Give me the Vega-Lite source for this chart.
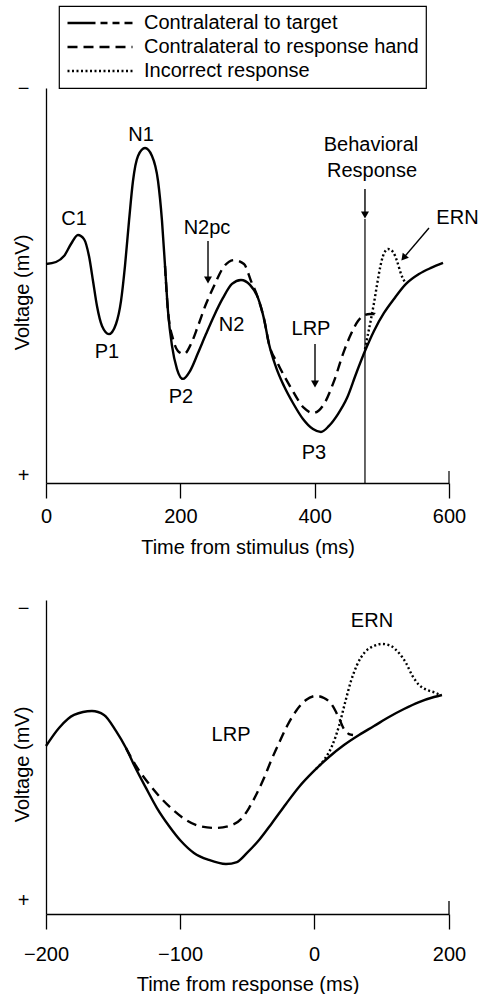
{
  "$schema": "https://vega.github.io/schema/vega-lite/v6.json",
  "background": "white",
  "padding": {"left": 12, "top": 5, "right": 0, "bottom": 0},
  "spacing": 41,
  "config": {
    "view": {"stroke": null},
    "font": "Liberation Sans",
    "axis": {"labelFont": "Liberation Sans", "titleFont": "Liberation Sans", "labelFontSize": 20, "titleFontSize": 20, "titleFontWeight": "normal", "labelColor": "black", "titleColor": "black", "domainColor": "black", "tickColor": "black", "domainWidth": 1.3, "tickWidth": 1.3, "grid": false},
    "text": {"font": "Liberation Sans", "fontSize": 20, "color": "black"}
  },
  "datasets": {
    "stim": [
      {"time":0,"voltage":-1.09,"trace":"Contralateral to target"},{"time":14.9,"voltage":-1.19,"trace":"Contralateral to target"},{"time":26.8,"voltage":-1.49,"trace":"Contralateral to target"},{"time":37.2,"voltage":-2.10,"trace":"Contralateral to target"},{"time":47.6,"voltage":-2.56,"trace":"Contralateral to target"},{"time":56.6,"voltage":-2.35,"trace":"Contralateral to target"},{"time":64.0,"voltage":-1.49,"trace":"Contralateral to target"},{"time":70.0,"voltage":-0.23,"trace":"Contralateral to target"},{"time":75.9,"voltage":1.04,"trace":"Contralateral to target"},{"time":83.4,"voltage":2.05,"trace":"Contralateral to target"},{"time":93.8,"voltage":2.46,"trace":"Contralateral to target"},{"time":104.2,"voltage":1.95,"trace":"Contralateral to target"},{"time":111.7,"voltage":0.78,"trace":"Contralateral to target"},{"time":117.6,"voltage":-0.99,"trace":"Contralateral to target"},{"time":123.6,"voltage":-3.27,"trace":"Contralateral to target"},{"time":129.5,"voltage":-5.29,"trace":"Contralateral to target"},{"time":137.0,"voltage":-6.56,"trace":"Contralateral to target"},{"time":147.4,"voltage":-6.96,"trace":"Contralateral to target"},{"time":157.8,"voltage":-6.56,"trace":"Contralateral to target"},{"time":166.8,"voltage":-5.29,"trace":"Contralateral to target"},{"time":172.7,"voltage":-3.27,"trace":"Contralateral to target"},{"time":177.2,"voltage":-0.99,"trace":"Contralateral to target"},{"time":181.6,"voltage":1.29,"trace":"Contralateral to target"},{"time":187.6,"voltage":3.06,"trace":"Contralateral to target"},{"time":195.0,"voltage":4.23,"trace":"Contralateral to target"},{"time":204.0,"voltage":4.73,"trace":"Contralateral to target"},{"time":214.4,"voltage":4.33,"trace":"Contralateral to target"},{"time":226.3,"voltage":3.42,"trace":"Contralateral to target"},{"time":238.2,"voltage":2.46,"trace":"Contralateral to target"},{"time":250.1,"voltage":1.54,"trace":"Contralateral to target"},{"time":263.5,"voltage":0.63,"trace":"Contralateral to target"},{"time":276.9,"voltage":-0.08,"trace":"Contralateral to target"},{"time":290.3,"voltage":-0.28,"trace":"Contralateral to target"},{"time":303.7,"voltage":-0.03,"trace":"Contralateral to target"},{"time":315.6,"voltage":0.63,"trace":"Contralateral to target"},{"time":324.6,"voltage":1.70,"trace":"Contralateral to target"},{"time":332.0,"voltage":2.96,"trace":"Contralateral to target"},{"time":342.4,"voltage":4.13,"trace":"Contralateral to target"},{"time":354.3,"voltage":5.09,"trace":"Contralateral to target"},{"time":367.7,"voltage":5.95,"trace":"Contralateral to target"},{"time":382.6,"voltage":6.76,"trace":"Contralateral to target"},{"time":397.5,"voltage":7.27,"trace":"Contralateral to target"},{"time":409.4,"voltage":7.42,"trace":"Contralateral to target"},{"time":421.3,"voltage":7.11,"trace":"Contralateral to target"},{"time":434.7,"voltage":6.51,"trace":"Contralateral to target"},{"time":448.1,"voltage":5.70,"trace":"Contralateral to target"},{"time":461.5,"voltage":4.48,"trace":"Contralateral to target"},{"time":474.9,"voltage":3.32,"trace":"Contralateral to target"},{"time":488.3,"voltage":2.30,"trace":"Contralateral to target"},{"time":503.2,"voltage":1.39,"trace":"Contralateral to target"},{"time":518.1,"voltage":0.68,"trace":"Contralateral to target"},{"time":536.0,"voltage":-0.08,"trace":"Contralateral to target"},{"time":555.3,"voltage":-0.58,"trace":"Contralateral to target"},{"time":573.2,"voltage":-0.89,"trace":"Contralateral to target"},{"time":591.1,"voltage":-1.14,"trace":"Contralateral to target"},
      {"time":177.2,"voltage":-0.99,"trace":"Contralateral to response hand"},{"time":181.6,"voltage":1.29,"trace":"Contralateral to response hand"},{"time":189.1,"voltage":2.71,"trace":"Contralateral to response hand"},{"time":196.5,"voltage":3.32,"trace":"Contralateral to response hand"},{"time":205.5,"voltage":3.47,"trace":"Contralateral to response hand"},{"time":215.9,"voltage":2.96,"trace":"Contralateral to response hand"},{"time":226.3,"voltage":2.05,"trace":"Contralateral to response hand"},{"time":238.2,"voltage":0.94,"trace":"Contralateral to response hand"},{"time":250.1,"voltage":0.03,"trace":"Contralateral to response hand"},{"time":263.5,"voltage":-0.89,"trace":"Contralateral to response hand"},{"time":279.9,"voltage":-1.29,"trace":"Contralateral to response hand"},{"time":294.8,"voltage":-1.09,"trace":"Contralateral to response hand"},{"time":305.2,"voltage":-0.23,"trace":"Contralateral to response hand"},{"time":315.6,"voltage":0.63,"trace":"Contralateral to response hand"},{"time":324.6,"voltage":1.70,"trace":"Contralateral to response hand"},{"time":332.0,"voltage":2.96,"trace":"Contralateral to response hand"},{"time":345.4,"voltage":3.97,"trace":"Contralateral to response hand"},{"time":364.8,"voltage":5.19,"trace":"Contralateral to response hand"},{"time":384.1,"voltage":6.20,"trace":"Contralateral to response hand"},{"time":397.5,"voltage":6.46,"trace":"Contralateral to response hand"},{"time":413.9,"voltage":6.00,"trace":"Contralateral to response hand"},{"time":428.8,"voltage":4.84,"trace":"Contralateral to response hand"},{"time":443.7,"voltage":3.32,"trace":"Contralateral to response hand"},{"time":454.1,"voltage":2.46,"trace":"Contralateral to response hand"},{"time":464.5,"voltage":1.80,"trace":"Contralateral to response hand"},{"time":474.9,"voltage":1.49,"trace":"Contralateral to response hand"},{"time":482.4,"voltage":1.44,"trace":"Contralateral to response hand"},{"time":489.8,"voltage":1.44,"trace":"Contralateral to response hand"},{"time":491.3,"voltage":1.70,"trace":"Contralateral to response hand"},
      {"time":474.9,"voltage":3.22,"trace":"Incorrect response"},{"time":479.4,"voltage":2.46,"trace":"Incorrect response"},{"time":483.9,"voltage":1.70,"trace":"Incorrect response"},{"time":488.3,"voltage":0.89,"trace":"Incorrect response"},{"time":492.8,"voltage":-0.03,"trace":"Incorrect response"},{"time":497.3,"voltage":-0.89,"trace":"Incorrect response"},{"time":501.7,"voltage":-1.49,"trace":"Incorrect response"},{"time":509.2,"voltage":-1.85,"trace":"Incorrect response"},{"time":516.7,"voltage":-1.70,"trace":"Incorrect response"},{"time":522.6,"voltage":-1.24,"trace":"Incorrect response"},{"time":528.6,"voltage":-0.58,"trace":"Incorrect response"},{"time":536.0,"voltage":-0.08,"trace":"Incorrect response"}
    ],
    "stimLabels": [
      {"time":41.7,"voltage":-3.36,"label":"C1"},{"time":141.4,"voltage":-7.61,"label":"N1"},{"time":90.8,"voltage":3.38,"label":"P1"},{"time":239.7,"voltage":-2.9,"label":"N2pc"},{"time":201.0,"voltage":5.65,"label":"P2"},{"time":276.2,"voltage":2.01,"label":"N2"},{"time":394.5,"voltage":2.21,"label":"LRP"},{"time":399.0,"voltage":8.49,"label":"P3"},{"time":483.9,"voltage":-7.1,"label":"Behavioral"},{"time":485.4,"voltage":-5.79,"label":"Response"},{"time":612.6,"voltage":-3.41,"label":"ERN"}
    ],
    "stimArrows": [
      {"time":241.2,"voltage":-2.25,"time2":241.2,"voltage2":-0.28},{"time":400.5,"voltage":2.96,"time2":400.5,"voltage2":4.99},{"time":474.9,"voltage":-4.89,"time2":474.9,"voltage2":-3.57},{"time":570.2,"voltage":-2.91,"time2":532.4,"voltage2":-1.40}
    ],
    "stimHeads": [{"time":241.2,"voltage":-0.28},{"time":400.5,"voltage":4.99},{"time":474.9,"voltage":-3.57}],
    "stimErnHead": [{"time":532.4,"voltage":-1.40}],
    "stimRules": [{"time":474.9,"voltage":-3.37,"voltage2":10},{"time":600,"voltage":9.39,"voltage2":10}],
    "resp": [
      {"time":-200,"voltage":-0.70,"trace":"Contralateral to target"},{"time":-190.3,"voltage":-1.85,"trace":"Contralateral to target"},{"time":-179.1,"voltage":-2.68,"trace":"Contralateral to target"},{"time":-165.7,"voltage":-2.93,"trace":"Contralateral to target"},{"time":-156.7,"voltage":-2.68,"trace":"Contralateral to target"},{"time":-147.8,"voltage":-1.66,"trace":"Contralateral to target"},{"time":-140.3,"voltage":-0.57,"trace":"Contralateral to target"},{"time":-134.3,"voltage":0.51,"trace":"Contralateral to target"},{"time":-125.4,"voltage":1.97,"trace":"Contralateral to target"},{"time":-117.2,"voltage":3.25,"trace":"Contralateral to target"},{"time":-108.2,"voltage":4.39,"trace":"Contralateral to target"},{"time":-99.3,"voltage":5.35,"trace":"Contralateral to target"},{"time":-89.6,"voltage":6.11,"trace":"Contralateral to target"},{"time":-78.4,"voltage":6.56,"trace":"Contralateral to target"},{"time":-65.7,"voltage":6.82,"trace":"Contralateral to target"},{"time":-57.5,"voltage":6.69,"trace":"Contralateral to target"},{"time":-50.0,"voltage":6.11,"trace":"Contralateral to target"},{"time":-41.0,"voltage":5.29,"trace":"Contralateral to target"},{"time":-31.3,"voltage":4.20,"trace":"Contralateral to target"},{"time":-20.9,"voltage":2.99,"trace":"Contralateral to target"},{"time":-11.2,"voltage":1.91,"trace":"Contralateral to target"},{"time":0,"voltage":0.89,"trace":"Contralateral to target"},{"time":22.2,"voltage":0,"trace":"Contralateral to target"},{"time":44.4,"voltage":-0.76,"trace":"Contralateral to target"},{"time":66.7,"voltage":-1.40,"trace":"Contralateral to target"},{"time":88.9,"voltage":-1.97,"trace":"Contralateral to target"},{"time":111.1,"voltage":-2.55,"trace":"Contralateral to target"},{"time":133.3,"voltage":-3.06,"trace":"Contralateral to target"},{"time":155.6,"voltage":-3.50,"trace":"Contralateral to target"},{"time":177.8,"voltage":-3.82,"trace":"Contralateral to target"},{"time":189.6,"voltage":-3.95,"trace":"Contralateral to target"},
      {"time":-140.3,"voltage":-0.57,"trace":"Contralateral to response hand"},{"time":-132.8,"voltage":0.57,"trace":"Contralateral to response hand"},{"time":-125.4,"voltage":1.46,"trace":"Contralateral to response hand"},{"time":-115.7,"voltage":2.48,"trace":"Contralateral to response hand"},{"time":-106.0,"voltage":3.31,"trace":"Contralateral to response hand"},{"time":-95.5,"voltage":4.01,"trace":"Contralateral to response hand"},{"time":-85.8,"voltage":4.39,"trace":"Contralateral to response hand"},{"time":-73.1,"voltage":4.52,"trace":"Contralateral to response hand"},{"time":-61.2,"voltage":4.33,"trace":"Contralateral to response hand"},{"time":-53.7,"voltage":3.89,"trace":"Contralateral to response hand"},{"time":-48.5,"voltage":3.25,"trace":"Contralateral to response hand"},{"time":-42.5,"voltage":2.29,"trace":"Contralateral to response hand"},{"time":-37.3,"voltage":1.34,"trace":"Contralateral to response hand"},{"time":-32.1,"voltage":0.25,"trace":"Contralateral to response hand"},{"time":-26.1,"voltage":-0.89,"trace":"Contralateral to response hand"},{"time":-20.1,"voltage":-1.97,"trace":"Contralateral to response hand"},{"time":-13.4,"voltage":-2.93,"trace":"Contralateral to response hand"},{"time":-6.0,"voltage":-3.63,"trace":"Contralateral to response hand"},{"time":3.0,"voltage":-3.89,"trace":"Contralateral to response hand"},{"time":14.8,"voltage":-3.76,"trace":"Contralateral to response hand"},{"time":26.7,"voltage":-3.31,"trace":"Contralateral to response hand"},{"time":37.0,"voltage":-2.48,"trace":"Contralateral to response hand"},{"time":44.4,"voltage":-1.78,"trace":"Contralateral to response hand"},{"time":51.9,"voltage":-1.46,"trace":"Contralateral to response hand"},{"time":57.8,"voltage":-1.40,"trace":"Contralateral to response hand"},
      {"time":3.0,"voltage":0.76,"trace":"Incorrect response"},{"time":14.8,"voltage":0.19,"trace":"Incorrect response"},{"time":26.7,"voltage":-0.70,"trace":"Incorrect response"},{"time":37.0,"voltage":-1.97,"trace":"Incorrect response"},{"time":45.9,"voltage":-3.44,"trace":"Incorrect response"},{"time":54.8,"voltage":-4.84,"trace":"Incorrect response"},{"time":63.7,"voltage":-5.86,"trace":"Incorrect response"},{"time":75.6,"voltage":-6.69,"trace":"Incorrect response"},{"time":88.9,"voltage":-7.07,"trace":"Incorrect response"},{"time":100.7,"voltage":-7.20,"trace":"Incorrect response"},{"time":114.1,"voltage":-7.07,"trace":"Incorrect response"},{"time":125.9,"voltage":-6.62,"trace":"Incorrect response"},{"time":136.3,"voltage":-5.99,"trace":"Incorrect response"},{"time":145.2,"voltage":-5.22,"trace":"Incorrect response"},{"time":155.6,"voltage":-4.59,"trace":"Incorrect response"},{"time":167.4,"voltage":-4.27,"trace":"Incorrect response"},{"time":180.7,"voltage":-4.08,"trace":"Incorrect response"},{"time":186.7,"voltage":-3.95,"trace":"Incorrect response"}
    ],
    "respLabels": [{"time":85.9,"voltage":-8.66,"label":"ERN"},{"time":-61.9,"voltage":-1.39,"label":"LRP"}],
    "respRules": [{"time":200,"voltage":9.17,"voltage2":10}]
  },
  "vconcat": [
    {
      "width": 403,
      "height": 395,
      "encoding": {
        "x": {"field": "time", "type": "quantitative", "scale": {"domain": [0, 600], "nice": false, "zero": false},
              "axis": {"values": [0, 200, 400, 600], "title": "Time from stimulus (ms)", "tickSize": 15, "labelPadding": 8, "titlePadding": 11, "labelFlush": false}},
        "y": {"field": "voltage", "type": "quantitative", "scale": {"domain": [-10, 10], "reverse": true, "nice": false, "zero": false},
              "axis": {"values": [-10, 9.6], "labelExpr": "datum.value < 0 ? '−' : '+'", "tickSize": 0, "labelPadding": 17, "title": "Voltage (mV)", "titleX": -18, "titleY": 204, "titleBaseline": "alphabetic"}}
      },
      "layer": [
        {
          "data": {"name": "stim"},
          "transform": [{"filter": "datum.trace === 'Contralateral to target'"}],
          "mark": {"type": "line", "color": "black", "strokeWidth": 2.4, "interpolate": "monotone"}
        },
        {
          "data": {"name": "stim"},
          "transform": [{"filter": "datum.trace !== 'Contralateral to target'"}],
          "mark": {"type": "line", "color": "black", "strokeWidth": 2.4, "interpolate": "monotone"},
          "encoding": {
            "strokeDash": {"field": "trace", "type": "nominal",
              "scale": {"domain": ["Contralateral to target", "Contralateral to response hand", "Incorrect response"], "range": [[28, 5, 7, 5, 7, 5, 8, 35], [10, 6], [2, 2.5]]},
              "legend": {
                "title": null, "orient": "none", "legendX": 13, "legendY": -82,
                "symbolType": "stroke", "symbolSize": 4225, "symbolStrokeWidth": 2.4, "symbolStrokeColor": "black",
                "labelFontSize": 20, "labelFont": "Liberation Sans", "labelColor": "black", "labelOffset": 10, "labelLimit": 600,
                "padding": 7, "rowPadding": 4, "clipHeight": 20, "strokeColor": "black",
                "labelExpr": "datum.label + '\u00a0'",
                "encode": {"legend": {"update": {"strokeWidth": {"value": 1.2}}}}
              }
            }
          }
        },
        {
          "data": {"name": "stimRules"},
          "mark": {"type": "rule", "color": "black", "strokeWidth": 1.2},
          "encoding": {"y2": {"field": "voltage2"}}
        },
        {
          "data": {"name": "stimArrows"},
          "mark": {"type": "rule", "color": "black", "strokeWidth": 1.4},
          "encoding": {"x2": {"field": "time2"}, "y2": {"field": "voltage2"}}
        },
        {
          "data": {"name": "stimHeads"},
          "mark": {"type": "point", "shape": "triangle-down", "filled": true, "color": "black", "opacity": 1, "size": 64}
        },
        {
          "data": {"name": "stimErnHead"},
          "mark": {"type": "point", "shape": "triangle-down", "filled": true, "color": "black", "opacity": 1, "size": 64, "angle": 40}
        },
        {
          "data": {"name": "stimLabels"},
          "mark": {"type": "text", "fontSize": 20, "font": "Liberation Sans", "color": "black", "baseline": "middle", "align": "center"},
          "encoding": {"text": {"field": "label"}}
        }
      ]
    },
    {
      "width": 403,
      "height": 314,
      "encoding": {
        "x": {"field": "time", "type": "quantitative", "scale": {"domain": [-200, 0, 200], "range": [0, 268, 403], "nice": false, "zero": false},
              "axis": {"values": [-200, -100, 0, 200], "title": "Time from response (ms)", "tickSize": 15, "labelPadding": 15, "titlePadding": 10, "labelFlush": false}},
        "y": {"field": "voltage", "type": "quantitative", "scale": {"domain": [-10, 10], "reverse": true, "nice": false, "zero": false},
              "axis": {"values": [-9.49, 9.17], "labelExpr": "datum.value < 0 ? '−' : '+'", "tickSize": 0, "labelPadding": 17, "title": "Voltage (mV)", "titleX": -18, "titleY": 164, "titleBaseline": "alphabetic"}}
      },
      "layer": [
        {
          "data": {"name": "resp"},
          "transform": [{"filter": "datum.trace === 'Contralateral to target'"}],
          "mark": {"type": "line", "color": "black", "strokeWidth": 2.4, "interpolate": "monotone"}
        },
        {
          "data": {"name": "resp"},
          "transform": [{"filter": "datum.trace !== 'Contralateral to target'"}],
          "mark": {"type": "line", "color": "black", "strokeWidth": 2.4, "interpolate": "monotone"},
          "encoding": {
            "strokeDash": {"field": "trace", "type": "nominal",
              "scale": {"domain": ["Contralateral to target", "Contralateral to response hand", "Incorrect response"], "range": [[28, 5, 7, 5, 7, 5, 8, 35], [10, 6], [2, 2.5]]},
              "legend": null}
          }
        },
        {
          "data": {"name": "respRules"},
          "mark": {"type": "rule", "color": "black", "strokeWidth": 1.3},
          "encoding": {"y2": {"field": "voltage2"}}
        },
        {
          "data": {"name": "respLabels"},
          "mark": {"type": "text", "fontSize": 20, "font": "Liberation Sans", "color": "black", "baseline": "middle", "align": "center"},
          "encoding": {"text": {"field": "label"}}
        }
      ]
    }
  ],
  "resolve": {"scale": {"x": "independent", "y": "independent", "strokeDash": "independent"}, "legend": {"strokeDash": "independent"}}
}
